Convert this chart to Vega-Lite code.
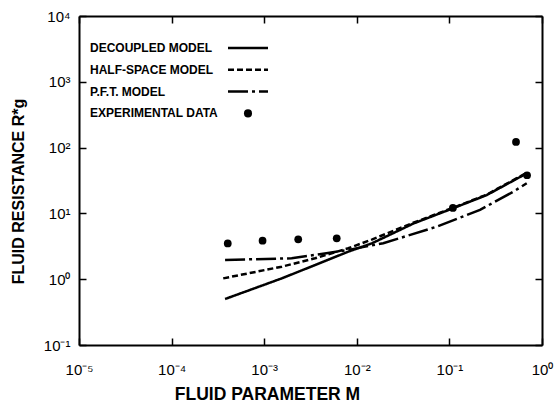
{
  "$schema": "https://vega.github.io/schema/vega-lite/v6.json",
  "width": 463,
  "height": 329,
  "autosize": "none",
  "padding": {"left": 79, "top": 16, "right": 16, "bottom": 59},
  "background": "white",
  "config": {
    "view": {"stroke": null},
    "axis": {
      "labelFont": "Liberation Sans",
      "labelFontSize": 15,
      "labelColor": "black",
      "domainColor": "black",
      "domainWidth": 2,
      "tickColor": "black",
      "tickWidth": 1.5,
      "tickSize": -7,
      "grid": false,
      "titleFont": "Liberation Sans",
      "titleFontWeight": "bold",
      "titleColor": "black"
    }
  },
  "datasets": {
    "lines": [
      {"series": "DECOUPLED MODEL", "M": 0.000378, "R": 0.50},
      {"series": "DECOUPLED MODEL", "M": 0.00155, "R": 1.03},
      {"series": "DECOUPLED MODEL", "M": 0.00354, "R": 1.64},
      {"series": "DECOUPLED MODEL", "M": 0.00809, "R": 2.62},
      {"series": "DECOUPLED MODEL", "M": 0.0145, "R": 3.5},
      {"series": "DECOUPLED MODEL", "M": 0.0407, "R": 7.0},
      {"series": "DECOUPLED MODEL", "M": 0.110, "R": 12.0},
      {"series": "DECOUPLED MODEL", "M": 0.253, "R": 19.0},
      {"series": "DECOUPLED MODEL", "M": 0.684, "R": 40.6},
      {"series": "HALF-SPACE MODEL", "M": 0.000361, "R": 1.03},
      {"series": "HALF-SPACE MODEL", "M": 0.00155, "R": 1.55},
      {"series": "HALF-SPACE MODEL", "M": 0.00354, "R": 2.08},
      {"series": "HALF-SPACE MODEL", "M": 0.00809, "R": 2.95},
      {"series": "HALF-SPACE MODEL", "M": 0.0145, "R": 4.0},
      {"series": "HALF-SPACE MODEL", "M": 0.0407, "R": 7.2},
      {"series": "HALF-SPACE MODEL", "M": 0.110, "R": 12.2},
      {"series": "HALF-SPACE MODEL", "M": 0.253, "R": 19.3},
      {"series": "HALF-SPACE MODEL", "M": 0.684, "R": 41.5},
      {"series": "P.F.T. MODEL", "M": 0.000378, "R": 1.96},
      {"series": "P.F.T. MODEL", "M": 0.00198, "R": 2.08},
      {"series": "P.F.T. MODEL", "M": 0.00489, "R": 2.5},
      {"series": "P.F.T. MODEL", "M": 0.00803, "R": 2.78},
      {"series": "P.F.T. MODEL", "M": 0.0193, "R": 3.52},
      {"series": "P.F.T. MODEL", "M": 0.0729, "R": 6.28},
      {"series": "P.F.T. MODEL", "M": 0.214, "R": 11.3},
      {"series": "P.F.T. MODEL", "M": 0.49, "R": 21.4},
      {"series": "P.F.T. MODEL", "M": 0.684, "R": 28.7}
    ],
    "points": [
      {"M": 0.000404, "R": 3.5},
      {"M": 0.00096, "R": 3.85},
      {"M": 0.00233, "R": 4.04},
      {"M": 0.00607, "R": 4.19},
      {"M": 0.109, "R": 12.1},
      {"M": 0.524, "R": 122},
      {"M": 0.69, "R": 38}
    ]
  },
  "layer": [
    {
      "data": {"name": "lines"},
      "mark": {"type": "line", "color": "black", "strokeWidth": 2.5},
      "encoding": {
        "x": {
          "field": "M", "type": "quantitative",
          "scale": {"type": "log", "domain": [0.00001, 1], "nice": false},
          "axis": {
            "orient": "bottom",
            "values": [0.00001, 0.0001, 0.001, 0.01, 0.1, 1],
            "labelExpr": "'10' + (round(log(datum.value)/LN10) < 0 ? '⁻' : '') + ['⁰','¹','²','³','⁴','⁵','⁶','⁷','⁸','⁹'][abs(round(log(datum.value)/LN10))]",
            "labelPadding": 24,
            "labelFlush": false,
            "title": "FLUID PARAMETER M",
            "titleFontSize": 17.5,
            "titleX": 188,
            "titleY": 54,
            "titleBaseline": "alphabetic",
            "titleAlign": "center"
          }
        },
        "y": {
          "field": "R", "type": "quantitative",
          "scale": {"type": "log", "domain": [0.1, 10000], "nice": false},
          "axis": {
            "orient": "left",
            "values": [0.1, 1, 10, 100, 1000, 10000],
            "labelExpr": "'10' + (round(log(datum.value)/LN10) < 0 ? '⁻' : '') + ['⁰','¹','²','³','⁴','⁵','⁶','⁷','⁸','⁹'][abs(round(log(datum.value)/LN10))]",
            "labelPadding": 16,
            "labelFlush": false,
            "labelBaseline": "middle",
            "title": "FLUID RESISTANCE R*g",
            "titleFontSize": 16,
            "titleAngle": 270,
            "titleX": -56,
            "titleY": 175,
            "titleBaseline": "alphabetic",
            "titleAlign": "center"
          }
        },
        "strokeDash": {
          "field": "series", "type": "nominal",
          "scale": {
            "domain": ["DECOUPLED MODEL", "HALF-SPACE MODEL", "P.F.T. MODEL", "EXPERIMENTAL DATA"],
            "range": [[1, 0], [6, 3], [20, 4, 3, 4], [1, 0]]
          },
          "legend": {
            "orient": "none",
            "legendX": 163,
            "legendY": 26,
            "title": null,
            "symbolType": "stroke",
            "symbolSize": 1600,
            "symbolStrokeWidth": 2.5,
            "symbolStrokeColor": "black",
            "labelFont": "Liberation Sans",
            "labelFontWeight": "bold",
            "labelFontSize": 12,
            "labelColor": "black",
            "labelLimit": 300,
            "labelOffset": -164,
            "rowPadding": 9.8,
            "padding": 0,
            "encode": {
              "symbols": {
                "update": {
                  "shape": {"signal": "datum.value === 'EXPERIMENTAL DATA' ? 'circle' : 'stroke'"},
                  "size": {"signal": "datum.value === 'EXPERIMENTAL DATA' ? 65 : 1600"},
                  "fill": {"signal": "datum.value === 'EXPERIMENTAL DATA' ? 'black' : 'transparent'"},
                  "stroke": {"value": "black"},
                  "strokeWidth": {"signal": "datum.value === 'EXPERIMENTAL DATA' ? 0 : 2.5"},
                  "opacity": {"value": 1}
                }
              }
            }
          }
        }
      }
    },
    {
      "data": {"name": "points"},
      "mark": {"type": "circle", "color": "black", "size": 60, "opacity": 1},
      "encoding": {
        "x": {
          "field": "M", "type": "quantitative",
          "scale": {"type": "log", "domain": [0.00001, 1], "nice": false},
          "axis": {"orient": "top", "values": [0.00001, 0.0001, 0.001, 0.01, 0.1, 1], "labels": false, "title": null}
        },
        "y": {
          "field": "R", "type": "quantitative",
          "scale": {"type": "log", "domain": [0.1, 10000], "nice": false},
          "axis": {"orient": "right", "values": [0.1, 1, 10, 100, 1000, 10000], "labels": false, "title": null}
        }
      }
    }
  ],
  "resolve": {"axis": {"x": "independent", "y": "independent"}}
}
